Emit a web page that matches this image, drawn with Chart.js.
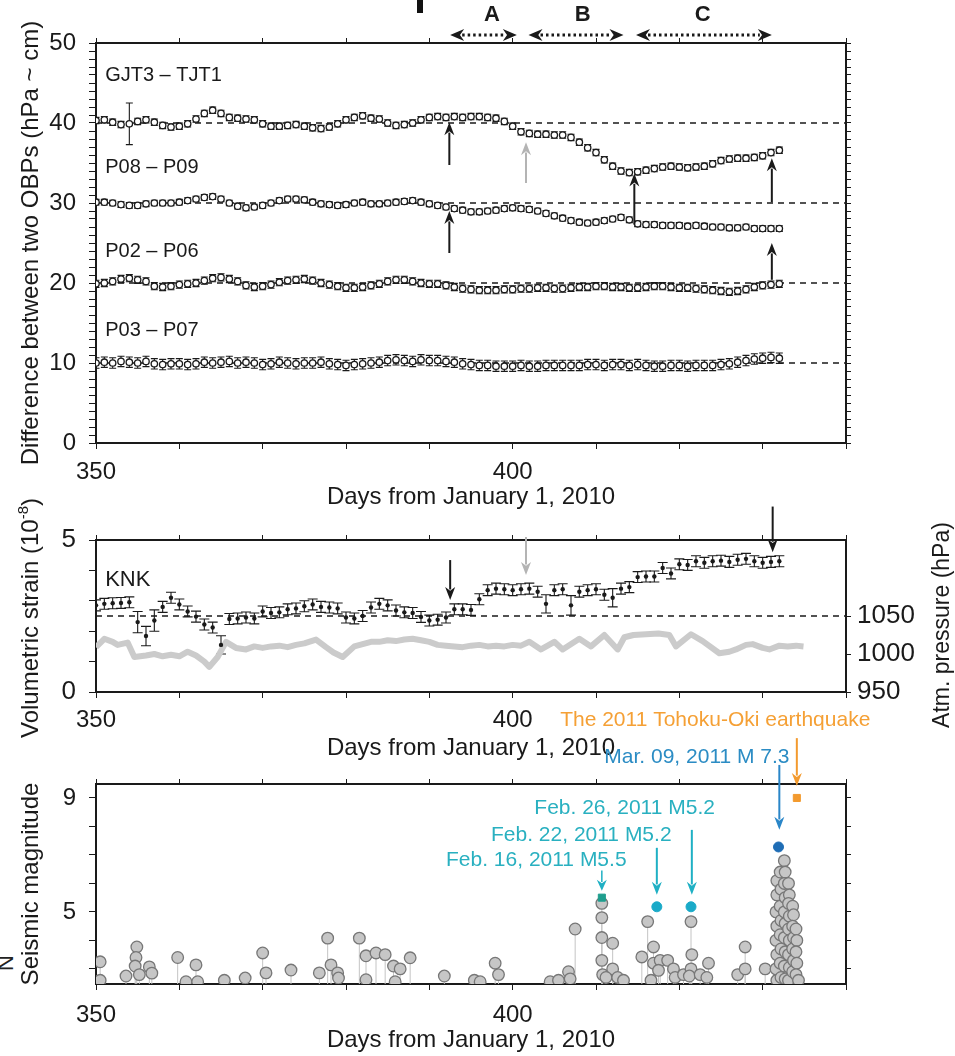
<!DOCTYPE html>
<html>
<head>
<meta charset="utf-8">
<script src="https://cdn.jsdelivr.net/npm/chart.js@4.4.0/dist/chart.umd.min.js"></script>
<style>
  body { margin: 0; background: #fff; }
  #wrap { position: relative; width: 955px; height: 1056px; overflow: hidden; }
  .panel { position: absolute; left: 0; width: 955px; }
  .bar { position: absolute; left: 417px; top: 0; width: 6px; height: 13px; background: #111; }
  .cut { position: absolute; left: -2px; top: 950px; font: 22px "Liberation Sans", Arial, sans-serif; color: #222; transform: rotate(-90deg); }
</style>
</head>
<body>
<div id="wrap">
  <div class="bar"></div>
  <div class="cut">N</div>
  <div class="panel" style="top:0;height:515px"><canvas id="obp"></canvas></div>
  <div class="panel" style="top:490px;height:275px"><canvas id="strain"></canvas></div>
  <div class="panel" style="top:700px;height:356px"><canvas id="seismic"></canvas></div>
</div>
<script>
const ink = "#1a1a1a";
const fontFam = "'Liberation Sans', Arial, Helvetica, sans-serif";
Chart.defaults.font.family = fontFam;
Chart.defaults.color = ink;

// ---- x axis (days from Jan 1, 2010) ----
const xTickDays = [350, 360, 370, 380, 390, 400, 410, 420, 430, 440];
const xLabelDays = [350, 400];
const firstDay = 350;

// ---- panel 1: OBP differences, one value per day from day 350 ----
const gjtVals = [
  40.3, 40.4, 40.1, 39.8, 39.9, 40.2, 40.4, 40.1, 39.7, 39.5,
  39.6, 39.9, 40.5, 41.2, 41.6, 41.2, 40.7, 40.6, 40.5, 40.4,
  39.9, 39.6, 39.6, 39.7, 39.8, 39.6, 39.4, 39.3, 39.5, 39.9,
  40.4, 40.7, 40.9, 40.6, 40.5, 40.0, 39.7, 39.8, 40.0, 40.4,
  40.7, 40.8, 40.7, 40.8, 40.7, 40.8, 40.8, 40.7, 40.6, 40.2,
  39.6, 38.9, 38.7, 38.6, 38.6, 38.5, 38.5, 38.2, 37.6, 36.9,
  36.3, 35.4, 34.6, 34.0, 33.8, 33.9, 34.1, 34.3, 34.5, 34.6,
  34.5, 34.4, 34.5, 34.6, 34.9, 35.3, 35.5, 35.6, 35.6, 35.7,
  35.9, 36.3, 36.6
];
const p08Vals = [
  30.1, 30.1, 30.0, 29.8, 29.7, 29.7, 29.9, 30.0, 30.0, 30.0,
  30.1, 30.3, 30.5, 30.7, 30.8, 30.5, 30.0, 29.6, 29.4, 29.5,
  29.7, 30.0, 30.3, 30.5, 30.5, 30.4, 30.1, 29.9, 29.8, 29.7,
  29.8, 30.0, 30.1, 29.9, 29.9, 30.0, 30.1, 30.2, 30.3, 30.1,
  29.9, 29.7, 29.5, 29.3, 29.1, 28.9, 28.9, 29.0, 29.1, 29.3,
  29.4, 29.3, 29.2, 29.0, 28.7, 28.4, 28.1, 27.8, 27.6, 27.5,
  27.6, 27.8, 28.0, 28.2, 27.9, 27.4, 27.3, 27.3, 27.2, 27.2,
  27.2, 27.1, 27.2, 27.1, 27.0, 27.0, 26.9, 26.9, 27.0, 26.8,
  26.8, 26.8, 26.8
];
const p02Vals = [
  19.9, 20.0, 20.2, 20.5, 20.6, 20.4, 20.2, 19.6, 19.5, 19.6,
  19.8, 19.9, 20.0, 20.3, 20.6, 20.7, 20.5, 20.2, 19.7, 19.5,
  19.6, 19.8, 20.1, 20.3, 20.4, 20.5, 20.3, 20.0, 19.8, 19.6,
  19.4, 19.4, 19.5, 19.7, 19.9, 20.2, 20.4, 20.4, 20.2, 20.0,
  19.9, 19.9, 19.7, 19.5, 19.3, 19.2, 19.1, 19.1, 19.1, 19.2,
  19.2, 19.3, 19.3, 19.4, 19.4, 19.3, 19.3, 19.4, 19.5, 19.5,
  19.6, 19.6, 19.5, 19.5, 19.4, 19.4, 19.5, 19.6, 19.6, 19.5,
  19.4, 19.4, 19.3, 19.2, 19.1, 19.0, 18.9, 19.0, 19.2, 19.5,
  19.7, 19.8, 19.9
];
const p03Vals = [
  10.0, 10.1, 10.0, 10.2, 10.1, 10.0, 10.2, 9.9, 9.8, 9.9,
  9.9, 9.8, 9.9, 10.1, 10.0, 10.1, 10.2, 10.0, 10.1, 10.0,
  9.8, 9.9, 10.1, 10.0, 9.9, 10.0, 10.0, 10.1, 9.9, 9.8,
  9.7, 9.8, 9.9, 10.0, 10.1, 10.3, 10.4, 10.3, 10.2, 10.4,
  10.3, 10.3, 10.2, 10.1, 9.9, 9.8, 9.7, 9.7, 9.6, 9.6,
  9.6, 9.7, 9.6, 9.6, 9.7, 9.7, 9.7, 9.7, 9.7, 9.8,
  9.8, 9.7, 9.8, 9.8, 9.7, 9.8, 9.7, 9.6, 9.6, 9.7,
  9.7, 9.6, 9.7, 9.7, 9.7, 9.8, 9.9, 10.1, 10.3, 10.5,
  10.6, 10.7, 10.6
];
const obpRefLevels = [40, 30, 20, 10];

// ---- panel 2: KNK volumetric strain (daily) and atmospheric pressure ----
const strainVals = [
  2.85, 2.9, 2.92, 2.93, 2.95, 2.3, 1.84, 2.35, 2.8, 3.1,
  2.88, 2.65, 2.48, 2.22, 2.12, 1.55, 2.4, 2.42, 2.45, 2.42,
  2.65, 2.6, 2.62, 2.72, 2.75, 2.82, 2.88, 2.8, 2.78, 2.75,
  2.45, 2.42, 2.5, 2.78, 2.9, 2.85, 2.68, 2.62, 2.6, 2.47,
  2.35, 2.38, 2.45, 2.72, 2.72, 2.7, 3.05, 3.35, 3.4, 3.38,
  3.35, 3.38, 3.4, 3.3, 2.9, 3.35, 3.38, 2.85, 3.3, 3.35,
  3.38, 3.2, 3.1, 3.4, 3.45, 3.78, 3.8, 3.8, 4.08, 3.9,
  4.2, 4.18, 4.3, 4.25, 4.3, 4.32, 4.28, 4.35, 4.38, 4.3,
  4.25, 4.28, 4.3
];
const strainRef = 2.5;
const pressureDays = [
  350, 351, 352, 352.6, 353.8, 354.6, 356, 357, 358, 359, 360, 361, 362, 363, 363.6,
  364.6, 365.6, 366.8, 368, 369, 370, 371, 372, 373, 374, 375, 376.4, 377.6, 378.5,
  379.6, 381, 382, 383, 384, 385, 386, 387, 388, 389, 390, 391, 392, 393, 394, 395,
  396, 397, 398, 399, 400, 401, 402, 403.4, 405, 406, 408, 409.4, 411, 412.6, 413.4,
  414.5, 416, 417.5, 418.8, 419.6, 421.4, 422.8, 424.8, 426, 426.8, 428, 428.8, 430,
  430.8, 432, 433, 434, 434.9
];
const pressureVals = [
  1009, 1020, 1016, 1012, 1015, 996, 998, 1000, 997, 999, 997, 1003, 998, 990, 983,
  996, 1016, 1008, 1006, 1010, 1008, 1010, 1011, 1009, 1012, 1014, 1019, 1009, 1002,
  996, 1010, 1013, 1016, 1016, 1018, 1017, 1019, 1020, 1018, 1016, 1012, 1011, 1010, 1009, 1011,
  1012, 1010, 1011, 1010, 1012, 1011, 1016, 1006, 1016, 1006, 1020, 1010, 1025, 1006, 1022,
  1025, 1026, 1027, 1025, 1010, 1026, 1017, 1001, 1003, 1006, 1012, 1013, 1008,
  1006, 1011, 1010, 1011, 1010
];

// ---- panel 3: seismic events [day, magnitude] ----
const quakes = [
  [350.5, 3.25], [350.5, 2.6], [353.6, 2.75], [354.9, 3.77], [354.8, 3.4], [354.7, 3.1],
  [355.2, 2.8], [356.4, 3.07], [356.7, 2.85], [359.8, 3.4], [360.8, 2.55], [362, 3.14],
  [362.2, 2.55], [365.4, 2.6], [367.9, 2.68], [370, 3.56], [370.4, 2.86], [373.4, 2.96],
  [376.8, 2.86], [377.8, 4.08], [378.2, 3.14], [379, 2.86], [379.1, 2.68], [381.6, 4.08],
  [382.4, 3.46], [382.4, 2.62], [383.6, 3.56], [384.7, 3.5], [385.7, 3.1], [386.5, 3.0],
  [385.9, 2.55], [387.7, 3.39], [391.8, 2.75], [395.4, 2.6], [396.1, 2.55], [397.9, 3.2],
  [398.3, 2.8], [404.5, 2.55], [405.5, 2.6], [406.7, 2.9], [406.9, 2.65], [407.5, 4.4],
  [410.7, 5.3], [410.7, 4.8], [410.7, 4.1], [410.7, 3.3], [410.8, 2.8], [412, 3.9],
  [412, 3.0], [411.2, 2.7], [412.6, 2.7], [413.3, 2.6], [415.5, 3.42], [416.2, 4.66],
  [416.9, 3.77], [416.9, 3.2], [417.7, 3.3], [417.5, 2.95], [418.6, 3.3], [416.6, 2.6],
  [419.3, 3.0], [419.5, 2.7], [420.5, 2.8], [421.4, 4.66], [421.5, 3.5], [421.4, 3.0],
  [421.2, 2.75], [422.5, 2.8], [423.5, 3.2], [423.3, 2.7], [427, 2.8], [427.9, 3.77],
  [427.9, 3.0], [430.3, 3.0],
  [431.7, 6.1], [431.7, 5.6], [431.6, 5.0], [431.7, 4.5], [431.6, 4.0], [431.7, 3.5],
  [431.6, 3.0], [431.7, 2.6], [432.1, 6.4], [432.2, 5.8], [432.1, 5.2], [432.2, 4.7],
  [432.1, 4.2], [432.2, 3.7], [432.1, 3.2], [432.2, 2.7], [432.6, 6.8], [432.7, 6.4],
  [432.6, 6.0], [432.7, 5.5], [432.6, 5.0], [432.7, 4.6], [432.6, 4.1], [432.7, 3.6],
  [432.6, 3.1], [432.7, 2.65], [433.1, 6.0], [433.2, 5.6], [433.1, 5.3], [433.2, 4.85],
  [433.1, 4.4], [433.2, 4.0], [433.1, 3.5], [433.2, 3.05], [433.1, 2.6], [433.6, 5.2],
  [433.7, 4.9], [433.6, 4.5], [433.7, 4.1], [433.6, 3.7], [433.7, 3.3], [433.6, 2.9],
  [434.0, 4.4], [434.1, 4.0], [434.0, 3.6], [434.1, 3.2], [434.0, 2.8], [434.3, 2.6]
];
const feb16 = [410.7, 5.5];
const feb22 = [417.3, 5.18];
const feb26 = [421.4, 5.18];
const mar09 = [431.9, 7.28];
const tohoku = [434.1, 9.0];

// ---------- helpers ----------
const daysOf = vals => vals.map((v, i) => firstDay + i);
const pts = (xs, ys) => xs.map((x, i) => ({ x, y: ys[i] }));
const pairPts = arr => arr.map(p => ({ x: p[0], y: p[1] }));

function bottomAxis(h, pad, titlePad) {
  return {
    type: "linear", position: "bottom", min: 350, max: 440,
    afterBuildTicks: s => { s.ticks = xTickDays.map(v => ({ value: v })); },
    afterFit: s => { s.height = h; },
    ticks: { autoSkip: false, maxRotation: 0, padding: pad, font: { size: 24 },
      callback: v => xLabelDays.includes(v) ? String(v) : "" },
    grid: { drawOnChartArea: false, tickLength: 6, tickColor: ink },
    border: { color: ink, width: 2 },
    title: { display: true, text: "Days from January 1, 2010", font: { size: 24 },
      padding: { top: 0, bottom: titlePad } }
  };
}
function topAxis(h) {
  return {
    type: "linear", position: "top", min: 350, max: 440,
    afterBuildTicks: s => { s.ticks = xTickDays.map(v => ({ value: v })); },
    afterFit: s => { s.height = h; },
    ticks: { display: false, autoSkip: false },
    grid: { drawOnChartArea: false, tickLength: 5, tickColor: ink },
    border: { color: ink, width: 2 }
  };
}
function leftAxis(min, max, ticks, labels, title, size) {
  return {
    type: "linear", position: "left", min, max,
    afterBuildTicks: s => { s.ticks = ticks.map(v => ({ value: v })); },
    afterFit: s => { s.width = 96; },
    ticks: { autoSkip: false, padding: 13, font: { size },
      callback: v => labels.includes(v) ? String(v) : "" },
    grid: { drawOnChartArea: false, tickLength: 7, tickColor: ink },
    border: { color: ink, width: 2 },
    title: { display: !!title, text: title || "", font: { size: 24 }, padding: { top: 17, bottom: 0 } }
  };
}
function rightAxis(min, max, ticks, labels, size) {
  return {
    type: "linear", position: "right", min, max,
    afterBuildTicks: s => { s.ticks = ticks.map(v => ({ value: v })); },
    afterFit: s => { s.width = 109; },
    ticks: { autoSkip: false, padding: 6, font: { size: size || 24 },
      callback: v => labels.includes(v) ? String(v) : "" },
    grid: { drawOnChartArea: false, tickLength: 5, tickColor: ink },
    border: { color: ink, width: 2 }
  };
}
const baseOptions = {
  responsive: true, maintainAspectRatio: false, animation: false,
  layout: { padding: 0 },
  plugins: { legend: { display: false }, tooltip: { enabled: false } }
};

// error bars drawn under the markers
const errorBars = {
  id: "errorBars",
  beforeDatasetsDraw(chart) {
    const ctx = chart.ctx;
    chart.data.datasets.forEach((ds, i) => {
      if (!ds.errors) return;
      const meta = chart.getDatasetMeta(i);
      const ys = chart.scales[meta.yAxisID];
      ctx.save();
      ctx.beginPath();
      ctx.rect(chart.chartArea.left, chart.chartArea.top, chart.chartArea.width, chart.chartArea.height);
      ctx.clip();
      ctx.strokeStyle = ink;
      ctx.lineWidth = 1.1;
      meta.data.forEach((pt, j) => {
        const v = ds.data[j].y, e = ds.errors[j];
        const t = ys.getPixelForValue(v + e), b = ys.getPixelForValue(v - e);
        const c = ds.cap || 3.5;
        ctx.beginPath();
        ctx.moveTo(pt.x, t); ctx.lineTo(pt.x, b);
        ctx.moveTo(pt.x - c, t); ctx.lineTo(pt.x + c, t);
        ctx.moveTo(pt.x - c, b); ctx.lineTo(pt.x + c, b);
        ctx.stroke();
      });
      ctx.restore();
    });
  }
};

// thin stems from each event down to the baseline
const stems = {
  id: "stems",
  beforeDatasetsDraw(chart) {
    const ctx = chart.ctx, bottom = chart.chartArea.bottom;
    chart.data.datasets.forEach((ds, i) => {
      if (!ds.stem) return;
      ctx.save();
      ctx.strokeStyle = ds.stem;
      ctx.lineWidth = 1;
      chart.getDatasetMeta(i).data.forEach(pt => {
        ctx.beginPath(); ctx.moveTo(pt.x, pt.y); ctx.lineTo(pt.x, bottom); ctx.stroke();
      });
      ctx.restore();
    });
  }
};

function arrowHead(ctx, x, y, ang, len, half) {
  ctx.beginPath();
  ctx.moveTo(x, y);
  ctx.lineTo(x - len * Math.cos(ang) + half * Math.sin(ang), y - len * Math.sin(ang) - half * Math.cos(ang));
  ctx.lineTo(x - len * 0.7 * Math.cos(ang), y - len * 0.7 * Math.sin(ang));
  ctx.lineTo(x - len * Math.cos(ang) - half * Math.sin(ang), y - len * Math.sin(ang) + half * Math.cos(ang));
  ctx.closePath();
  ctx.fill();
}
function arrow(ctx, x0, y0, x1, y1, color, lw, len, half) {
  const ang = Math.atan2(y1 - y0, x1 - x0);
  ctx.save();
  ctx.strokeStyle = color; ctx.fillStyle = color; ctx.lineWidth = lw;
  ctx.beginPath();
  ctx.moveTo(x0, y0);
  ctx.lineTo(x1 - len * 0.8 * Math.cos(ang), y1 - len * 0.8 * Math.sin(ang));
  ctx.stroke();
  arrowHead(ctx, x1, y1, ang, len, half);
  ctx.restore();
}

// annotations placed in data units through the chart's own scales
function marks(name, spec) {
  return {
    id: "marks" + name,
    afterDraw(chart) {
      const ctx = chart.ctx;
      const area = chart.chartArea;
      const px = v => chart.scales.x.getPixelForValue(v);
      const py = v => chart.scales.y.getPixelForValue(v);
      (spec.arrows || []).forEach(a =>
        arrow(ctx, px(a.x), py(a.from), px(a.x), py(a.to), a.color || ink, a.lw || 2, a.len || 13, a.half || 5));
      (spec.spans || []).forEach(s => {
        const x0 = px(s.x0), x1 = px(s.x1), y = py(s.y);
        ctx.save();
        ctx.fillStyle = ink; ctx.strokeStyle = ink; ctx.lineWidth = 3;
        ctx.setLineDash([2.5, 3]);
        ctx.beginPath(); ctx.moveTo(x0 + 12, y); ctx.lineTo(x1 - 12, y); ctx.stroke();
        ctx.setLineDash([]);
        arrowHead(ctx, x0, y, Math.PI, 14, 6);
        arrowHead(ctx, x1, y, 0, 14, 6);
        ctx.font = "bold 22px " + fontFam;
        ctx.textAlign = "center"; ctx.textBaseline = "middle";
        ctx.fillText(s.label, px(s.lx), py(s.ly));
        ctx.restore();
      });
      (spec.texts || []).forEach(t => {
        ctx.save();
        ctx.font = (t.size || 20) + "px " + fontFam;
        ctx.fillStyle = t.color || ink;
        ctx.textAlign = "left"; ctx.textBaseline = "middle";
        ctx.fillText(t.text, px(t.x), py(t.y));
        ctx.restore();
      });
      if (spec.leftTitle) {
        const [main, sup, tail] = spec.leftTitle;
        ctx.save();
        ctx.fillStyle = ink; ctx.textAlign = "left"; ctx.textBaseline = "middle";
        ctx.translate(31, (area.top + area.bottom) / 2 + 2);
        ctx.rotate(-Math.PI / 2);
        ctx.font = "24px " + fontFam;
        const w1 = ctx.measureText(main).width, w3 = ctx.measureText(tail).width;
        ctx.font = "15px " + fontFam;
        const w2 = ctx.measureText(sup).width;
        let x = -(w1 + w2 + w3) / 2;
        ctx.font = "24px " + fontFam; ctx.fillText(main, x, 0); x += w1;
        ctx.font = "15px " + fontFam; ctx.fillText(sup, x, -7); x += w2;
        ctx.font = "24px " + fontFam; ctx.fillText(tail, x, 0);
        ctx.restore();
      }
      if (spec.rightTitle) {
        ctx.save();
        ctx.font = "23px " + fontFam;
        ctx.fillStyle = ink; ctx.textAlign = "center"; ctx.textBaseline = "middle";
        ctx.translate(area.right + 97, (area.top + area.bottom) / 2 + 9);
        ctx.rotate(-Math.PI / 2);
        ctx.fillText(spec.rightTitle, 0, 0);
        ctx.restore();
      }
    }
  };
}

// ---------- panel 1 ----------
function obpSeries(vals, err, extra) {
  const d = daysOf(vals);
  return {
    data: pts(d, vals),
    errors: d.map(day => (extra && extra[day]) || err),
    pointRadius: 3.2, pointBackgroundColor: "#fff", pointBorderColor: ink, pointBorderWidth: 1.3,
    showLine: false
  };
}
function refLine(level) {
  return {
    data: [{ x: 350, y: level }, { x: 440, y: level }],
    showLine: true, borderColor: ink, borderWidth: 1.5, borderDash: [6, 5], pointRadius: 0
  };
}
const obpTicks = Array.from({ length: 51 }, (_, i) => i);

new Chart(document.getElementById("obp"), {
  type: "scatter",
  data: {
    datasets: [
      obpSeries(gjtVals, 0.4, { 354: 2.6 }),
      obpSeries(p08Vals, 0.35),
      obpSeries(p02Vals, 0.45),
      obpSeries(p03Vals, 0.65),
      ...obpRefLevels.map(refLine)
    ]
  },
  options: {
    ...baseOptions,
    scales: {
      x: bottomAxis(72, 9, 3),
      xt: topAxis(43),
      y: leftAxis(0, 50, obpTicks, [0, 10, 20, 30, 40, 50], "Difference between two OBPs (hPa ~ cm)", 24),
      yr: rightAxis(0, 50, obpTicks, [])
    }
  },
  plugins: [errorBars, marks("obp", {
    arrows: [
      { x: 392.4, from: 34.75, to: 40.1 },
      { x: 401.6, from: 32.5, to: 37.6, color: "#b4b4b4" },
      { x: 414.6, from: 27.3, to: 33.7 },
      { x: 431.1, from: 30.1, to: 35.6 },
      { x: 392.4, from: 23.75, to: 29.0 },
      { x: 431.1, from: 20.4, to: 25.0 }
    ],
    spans: [
      { x0: 392.5, x1: 400.5, y: 51, label: "A", lx: 397.5, ly: 53.5 },
      { x0: 401.9, x1: 413.3, y: 51, label: "B", lx: 408.4, ly: 53.5 },
      { x0: 414.8, x1: 431.1, y: 51, label: "C", lx: 422.8, ly: 53.5 }
    ],
    texts: [
      { text: "GJT3 \u2013 TJT1", x: 351.1, y: 46 },
      { text: "P08 \u2013 P09", x: 351.1, y: 34.4 },
      { text: "P02 \u2013 P06", x: 351.1, y: 23.9 },
      { text: "P03 \u2013 P07", x: 351.1, y: 14.1 }
    ]
  })]
});

// ---------- panel 2 ----------
const strainDays = daysOf(strainVals);
const strainBig = { 355: 0.35, 356: 0.32, 357: 0.35, 365: 0.3, 404: 0.3, 407: 0.32, 412: 0.3 };

new Chart(document.getElementById("strain"), {
  type: "scatter",
  data: {
    datasets: [
      {
        data: pts(strainDays, strainVals),
        errors: strainDays.map(d => strainBig[d] || 0.18), cap: 5,
        pointRadius: 2.2, pointBackgroundColor: ink, pointBorderWidth: 0, showLine: false
      },
      {
        data: pts(pressureDays, pressureVals), yAxisID: "yr",
        showLine: true, borderColor: "#cbcbcb", borderWidth: 6, pointRadius: 0, borderJoinStyle: "round"
      },
      refLine(strainRef)
    ]
  },
  options: {
    ...baseOptions,
    scales: {
      x: bottomAxis(73, 8, 2),
      xt: topAxis(50),
      y: leftAxis(0, 5, [0, 1, 2, 3, 4, 5], [0, 5], null, 26),
      yr: rightAxis(950, 1150, [950, 1000, 1050], [950, 1000, 1050], 26)
    }
  },
  plugins: [errorBars, marks("strain", {
    arrows: [
      { x: 392.5, from: 4.34, to: 3.03 },
      { x: 401.6, from: 5.1, to: 3.85, color: "#b4b4b4" },
      { x: 431.2, from: 6.1, to: 4.6 }
    ],
    texts: [{ text: "KNK", x: 351.1, y: 3.68, size: 22 }],
    leftTitle: ["Volumetric strain (10", "-8", ")"],
    rightTitle: "Atm. pressure (hPa)"
  })]
});

// ---------- panel 3 ----------
function quakeMark(p, color, style) {
  return {
    data: pairPts([p]), pointStyle: style || "circle", pointRadius: 5,
    pointBackgroundColor: color, pointBorderColor: color, pointBorderWidth: 1, showLine: false
  };
}

new Chart(document.getElementById("seismic"), {
  type: "scatter",
  data: {
    datasets: [
      quakeMark(tohoku, "#f39a2e", "rect"),
      quakeMark(mar09, "#1f6db5"),
      quakeMark(feb16, "#1f9e8e", "rect"),
      quakeMark(feb22, "#1aaac8"),
      quakeMark(feb26, "#1aaac8"),
      {
        data: pairPts(quakes), stem: "#c4c4c4",
        pointRadius: 5.8, pointBackgroundColor: "#c6c6c6", pointBorderColor: "#777", pointBorderWidth: 1.3,
        showLine: false
      }
    ]
  },
  options: {
    ...baseOptions,
    scales: {
      x: bottomAxis(72, 11, 1),
      xt: topAxis(84),
      y: leftAxis(2.47, 9.49, [3, 4, 5, 6, 7, 8, 9], [5, 9], "Seismic magnitude", 24),
      yr: rightAxis(2.47, 9.49, [3, 4, 5, 6, 7, 8, 9], [])
    }
  },
  plugins: [stems, marks("seismic", {
    arrows: [
      { x: 434.1, from: 11.1, to: 9.42, color: "#f39a2e", lw: 2 },
      { x: 432.0, from: 10.16, to: 7.88, color: "#2a86c8", lw: 2 },
      { x: 421.5, from: 7.88, to: 5.6, color: "#1fb0c4", lw: 2 },
      { x: 417.3, from: 7.25, to: 5.6, color: "#1fb0c4", lw: 2 },
      { x: 410.7, from: 6.45, to: 5.74, color: "#1fb0c4", lw: 1.5, len: 11 }
    ],
    texts: [
      { text: "The 2011 Tohoku-Oki earthquake", x: 405.7, y: 11.74, color: "#f5a035", size: 21 },
      { text: "Mar. 09, 2011 M 7.3", x: 411.0, y: 10.44, color: "#2b8cc4", size: 21 },
      { text: "Feb. 26, 2011 M5.2", x: 402.6, y: 8.65, color: "#29b0c0", size: 21 },
      { text: "Feb. 22, 2011 M5.2", x: 397.4, y: 7.7, color: "#29b0c0", size: 21 },
      { text: "Feb. 16, 2011 M5.5", x: 392.0, y: 6.82, color: "#29b0c0", size: 21 }
    ]
  })]
});
</script>
</body>
</html>
